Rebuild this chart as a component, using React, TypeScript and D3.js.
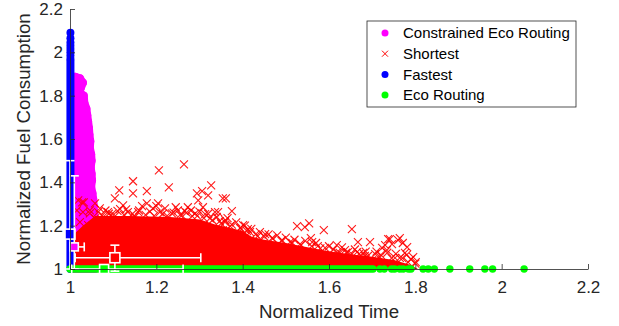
import { useEffect, useRef } from "react";
import * as d3 from "d3";

// tick values (both axes run 1 .. 2.2)
const xTicks = [1, 1.2, 1.4, 1.6, 1.8, 2, 2.2];
const yTicks = [1, 1.2, 1.4, 1.6, 1.8, 2, 2.2];

const legendLabels = ["Constrained Eco Routing", "Shortest", "Fastest", "Eco Routing"];

// Constrained Eco Routing: outer ring of the dense column (time, fuel)
const constrainedEdge = [
  [1.012, 1.887], [1.023, 1.88], [1.03, 1.86], [1.025, 1.835], [1.021, 1.815],
  [1.032, 1.8], [1.033, 1.77], [1.038, 1.74], [1.04, 1.71], [1.042, 1.68],
  [1.044, 1.65], [1.045, 1.62], [1.047, 1.59], [1.046, 1.56], [1.049, 1.53],
  [1.05, 1.5], [1.048, 1.47], [1.05, 1.44], [1.051, 1.41], [1.049, 1.38],
  [1.052, 1.35], [1.054, 1.32], [1.055, 1.29], [1.056, 1.26], [1.057, 1.23],
  [1.058, 1.2],
];

// Shortest: upper envelope of the saturated core of the cloud
const shortestCore = [
  [1.009, 1.16], [1.03, 1.2], [1.058, 1.245], [1.139, 1.245], [1.232, 1.24],
  [1.301, 1.228], [1.336, 1.205], [1.37, 1.19], [1.4, 1.175], [1.42, 1.15],
  [1.45, 1.135], [1.5, 1.12], [1.55, 1.1], [1.6, 1.082], [1.65, 1.068],
  [1.7, 1.056], [1.75, 1.042], [1.788, 1.02], [1.806, 1.0],
];

// Shortest: outliers above the cloud
const shortestOutliers = [
  [1.264, 1.483], [1.206, 1.455], [1.146, 1.405], [1.229, 1.377], [1.114, 1.363],
  [1.178, 1.359], [1.146, 1.349], [1.327, 1.386], [1.104, 1.326], [1.178, 1.303],
  [1.204, 1.303], [1.123, 1.294], [1.294, 1.349], [1.306, 1.359], [1.32, 1.34],
  [1.297, 1.317], [1.308, 1.285], [1.273, 1.285], [1.088, 1.262], [1.134, 1.262],
  [1.192, 1.28], [1.236, 1.257], [1.259, 1.248], [1.29, 1.257], [1.336, 1.262],
  [1.354, 1.326], [1.028, 1.308], [1.016, 1.271], [1.058, 1.303], [1.361, 1.326],
  [1.375, 1.267], [1.343, 1.262], [1.347, 1.221], [1.401, 1.202], [1.412, 1.184],
  [1.354, 1.179], [1.389, 1.166], [1.526, 1.198], [1.544, 1.193], [1.554, 1.211],
  [1.588, 1.179], [1.558, 1.143], [1.561, 1.124], [1.653, 1.184], [1.618, 1.11],
  [1.667, 1.124], [1.695, 1.124], [1.737, 1.138], [1.76, 1.133], [1.764, 1.143],
  [1.771, 1.12], [1.781, 1.101], [1.723, 1.097], [1.795, 1.055], [1.718, 1.055],
  [1.665, 1.078], [1.621, 1.074], [1.595, 1.055], [1.644, 1.078], [1.625, 1.074],
  [1.609, 1.051], [1.679, 1.074], [1.7, 1.041], [1.672, 1.041], [1.776, 1.074],
  [1.734, 1.087], [1.73, 1.11], [1.741, 1.138], [1.746, 1.115],
  [1.019, 1.317], [1.032, 1.308], [1.046, 1.257], [1.03, 1.262], [1.023, 1.216],
  [1.042, 1.202], [1.058, 1.234],
];

// Shortest: crosses forming the ragged top of the cloud
const shortestFringe = [
  [1.046, 1.271], [1.069, 1.28], [1.097, 1.253], [1.116, 1.276], [1.158, 1.262],
  [1.167, 1.29], [1.208, 1.262], [1.22, 1.28], [1.25, 1.271], [1.266, 1.267],
  [1.283, 1.244], [1.313, 1.253], [1.324, 1.234], [1.359, 1.216], [1.371, 1.198],
  [1.394, 1.189], [1.417, 1.17], [1.435, 1.152], [1.452, 1.161], [1.468, 1.143],
  [1.491, 1.133], [1.51, 1.124], [1.533, 1.115], [1.574, 1.106], [1.591, 1.097],
  [1.637, 1.087], [1.653, 1.069], [1.683, 1.06], [1.707, 1.069], [1.753, 1.051],
  [1.764, 1.051], [1.783, 1.032], [1.801, 1.032],
  [1.065, 1.262], [1.075, 1.248], [1.082, 1.27], [1.09, 1.255], [1.105, 1.245],
  [1.11, 1.268], [1.125, 1.25], [1.13, 1.275], [1.145, 1.255], [1.15, 1.24],
  [1.16, 1.27], [1.175, 1.25], [1.185, 1.265], [1.195, 1.245], [1.2, 1.29],
  [1.215, 1.255], [1.225, 1.245], [1.24, 1.26], [1.245, 1.285], [1.255, 1.25],
  [1.27, 1.26], [1.28, 1.27], [1.295, 1.245], [1.3, 1.265], [1.31, 1.235],
  [1.32, 1.255], [1.33, 1.225], [1.34, 1.24], [1.35, 1.21], [1.36, 1.225],
  [1.365, 1.235], [1.375, 1.205], [1.385, 1.215], [1.395, 1.19], [1.405, 1.2],
  [1.41, 1.175], [1.42, 1.185], [1.43, 1.16], [1.44, 1.17], [1.45, 1.15],
  [1.46, 1.16], [1.47, 1.14], [1.48, 1.155], [1.49, 1.13], [1.5, 1.145],
  [1.515, 1.12], [1.52, 1.135], [1.535, 1.11], [1.545, 1.13], [1.56, 1.105],
  [1.57, 1.12], [1.58, 1.095], [1.6, 1.105], [1.61, 1.09], [1.63, 1.1],
  [1.64, 1.075], [1.66, 1.09], [1.67, 1.07], [1.685, 1.08], [1.69, 1.06],
  [1.71, 1.08], [1.72, 1.065], [1.735, 1.075], [1.745, 1.05], [1.755, 1.07],
  [1.77, 1.05], [1.78, 1.065], [1.79, 1.045], [1.8, 1.025],
];

// Fastest: all at time 1, dense column up to this fuel value, then single dots
const fastestTime = 1.001;
const fastestColumn = [1.0, 1.96];
const fastestTop = [2.09, 2.065, 2.045, 2.03, 2.015, 2.0, 1.985, 1.97];

// Eco Routing: all at fuel 1, dense band then single dots
const ecoFuel = 1.0;
const ecoBand = [1.0, 1.702];
const ecoTimes = [
  1.718, 1.728, 1.745, 1.752, 1.764, 1.772, 1.784, 1.79, 1.818, 1.83, 1.844,
  1.88, 1.926, 1.961, 1.979, 2.052,
];

// mean markers with error bars: [meanX, meanY, xLow, xHigh, yLow, yHigh]
const errorStats = [
  { color: "#0000ff", size: 10, v: [1.0, 1.161, 0.999, 1.001, 1.0, 1.5] },
  { color: "#ff00ff", size: 8, v: [1.01, 1.102, 1.008, 1.033, 1.0, 1.43] },
  { color: "#ff0000", size: 10, v: [1.104, 1.052, 1.012, 1.303, 0.99, 1.11] },
  { color: "#00ff00", size: 9, v: [1.079, 1.0, 1.004, 1.262, 0.999, 1.001] },
];

const W = 619;
const H = 326;
const AX = "#262626";
const FONT = "'Liberation Sans', Arial, sans-serif";

const App = () => {
  const svgRef = useRef<SVGSVGElement>(null);

  useEffect(() => {
    const svg = d3.select(svgRef.current);
    svg.selectAll("*").remove();

    const x = d3.scaleLinear().domain([1, 2.2]).range([70, 588]);
    const y = d3.scaleLinear().domain([1, 2.2]).range([269, 9]);
    const px = (p: number[]) => [x(p[0]), y(p[1])] as [number, number];
    const crossPath = "M-4,-4L4,4M-4,4L4,-4";

    // Constrained Eco Routing
    const cg = svg.append("g").attr("fill", "#ff00ff");
    const poly = [[1.004, 1.0], [1.004, 1.887], ...constrainedEdge, [1.058, 1.0]];
    cg.append("path")
      .attr("d", d3.line()(poly.map(px)) + "Z")
      .attr("stroke", "#ff00ff")
      .attr("stroke-width", 8)
      .attr("stroke-linejoin", "round");
    cg.selectAll("circle")
      .data(constrainedEdge)
      .join("circle")
      .attr("cx", (d) => x(d[0]))
      .attr("cy", (d) => y(d[1]))
      .attr("r", 4);

    // Shortest
    const sg = svg.append("g");
    sg.append("path")
      .datum(shortestCore)
      .attr("fill", "#ff0000")
      .attr(
        "d",
        d3
          .area<number[]>()
          .x((d) => x(d[0]))
          .y0(y(1))
          .y1((d) => y(d[1]))
      );
    sg.selectAll("path.pt")
      .data([...shortestFringe, ...shortestOutliers])
      .join("path")
      .attr("class", "pt")
      .attr("d", crossPath)
      .attr("transform", (d) => `translate(${x(d[0])},${y(d[1])})`)
      .attr("stroke", "#ff0000")
      .attr("stroke-width", 1.1)
      .attr("opacity", 0.9)
      .attr("fill", "none");

    // Fastest
    const fg = svg.append("g");
    fg.append("line")
      .attr("x1", x(fastestTime))
      .attr("x2", x(fastestTime))
      .attr("y1", y(fastestColumn[0]))
      .attr("y2", y(fastestColumn[1]))
      .attr("stroke", "#0000ff")
      .attr("stroke-width", 8)
      .attr("stroke-linecap", "round");
    fg.selectAll("circle")
      .data(fastestTop)
      .join("circle")
      .attr("cx", x(fastestTime))
      .attr("cy", (d) => y(d))
      .attr("r", 4)
      .attr("fill", "#0000ff");

    // Eco Routing
    const eg = svg.append("g");
    eg.append("line")
      .attr("x1", x(ecoBand[0]))
      .attr("x2", x(ecoBand[1]))
      .attr("y1", y(ecoFuel))
      .attr("y2", y(ecoFuel))
      .attr("stroke", "#00ff00")
      .attr("stroke-width", 7.4)
      .attr("stroke-linecap", "round");
    eg.selectAll("circle")
      .data(ecoTimes)
      .join("circle")
      .attr("cx", (d) => x(d))
      .attr("cy", y(ecoFuel))
      .attr("r", 3.7)
      .attr("fill", "#00ff00");

    // error bars
    const cap = 4.5;
    errorStats.forEach(({ color, size, v }) => {
      const [mx, my, xl, xh, yl, yh] = v;
      const g = svg
        .append("g")
        .attr("stroke", "#ffffff")
        .attr("stroke-width", 1.6)
        .attr("fill", "none");
      const seg = (x1: number, y1: number, x2: number, y2: number) =>
        g.append("line").attr("x1", x1).attr("y1", y1).attr("x2", x2).attr("y2", y2);
      seg(x(mx), y(yl), x(mx), y(yh));
      seg(x(mx) - cap, y(yl), x(mx) + cap, y(yl));
      seg(x(mx) - cap, y(yh), x(mx) + cap, y(yh));
      seg(x(xl), y(my), x(xh), y(my));
      seg(x(xl), y(my) - cap, x(xl), y(my) + cap);
      seg(x(xh), y(my) - cap, x(xh), y(my) + cap);
      g.append("rect")
        .attr("x", x(mx) - size / 2)
        .attr("y", y(my) - size / 2)
        .attr("width", size)
        .attr("height", size)
        .attr("fill", color);
    });

    // axes (MATLAB style, inward ticks, no box)
    const fmt = d3.format("~g");
    const xAxis = svg
      .append("g")
      .attr("transform", `translate(0,${y(1)})`)
      .call(
        d3.axisBottom(x).tickValues(xTicks).tickFormat((d) => fmt(d as number))
          .tickSizeInner(-5).tickSizeOuter(0).tickPadding(12)
      );
    const yAxis = svg
      .append("g")
      .attr("transform", `translate(${x(1)},0)`)
      .call(
        d3.axisLeft(y).tickValues(yTicks).tickFormat((d) => fmt(d as number))
          .tickSizeInner(-5).tickSizeOuter(0).tickPadding(7)
      );
    [xAxis, yAxis].forEach((a) => {
      a.attr("font-family", FONT).attr("font-size", 17);
      a.selectAll("path, line").attr("stroke", AX).attr("stroke-width", 0.8);
      a.selectAll("text").attr("fill", AX);
    });

    svg.append("text")
      .attr("x", (x(1) + x(2.2)) / 2)
      .attr("y", 318)
      .attr("text-anchor", "middle")
      .attr("font-family", FONT)
      .attr("font-size", 18.7)
      .attr("fill", AX)
      .text("Normalized Time");
    svg.append("text")
      .attr("transform", `translate(30,${(y(1) + y(2.2)) / 2}) rotate(-90)`)
      .attr("text-anchor", "middle")
      .attr("font-family", FONT)
      .attr("font-size", 18.7)
      .attr("fill", AX)
      .text("Normalized Fuel Consumption");

    // legend
    const lg = svg.append("g");
    lg.append("rect")
      .attr("x", 367).attr("y", 21).attr("width", 209).attr("height", 86)
      .attr("fill", "#ffffff").attr("stroke", AX).attr("stroke-width", 0.8);
    const colors = ["#ff00ff", "#ff0000", "#0000ff", "#00ff00"];
    legendLabels.forEach((label, i) => {
      const cy = 33 + i * 20.7;
      if (i === 1) {
        lg.append("path").attr("d", "M-3,-3L3,3M-3,3L3,-3")
          .attr("transform", `translate(385,${cy})`)
          .attr("stroke", colors[i]).attr("stroke-width", 1);
      } else {
        lg.append("circle").attr("cx", 385).attr("cy", cy).attr("r", 3.5).attr("fill", colors[i]);
      }
      lg.append("text")
        .attr("x", 403).attr("y", cy + 5.3)
        .attr("font-family", FONT).attr("font-size", 15).attr("fill", "#000")
        .text(label);
    });
  }, []);

  return (
    <svg
      ref={svgRef}
      width={W}
      height={H}
      style={{ position: "absolute", left: 0, top: 0, background: "#fff" }}
    />
  );
};

export default App;
